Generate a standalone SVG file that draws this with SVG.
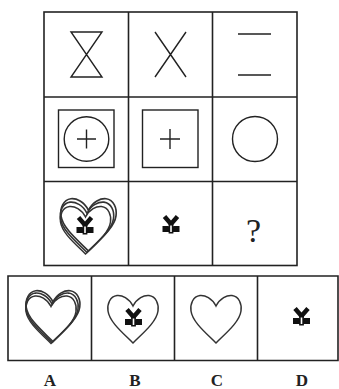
<svg xmlns="http://www.w3.org/2000/svg" xmlns:xlink="http://www.w3.org/1999/xlink" width="339" height="389" viewBox="0 0 339 389">
<style>
.grid{fill:none;stroke:#222;stroke-width:1.6}
.s{fill:none;stroke:#222;stroke-width:1.4}
.h{fill:none;stroke:#333;stroke-width:1.5}
.lbl{font-family:"Liberation Serif",serif;font-weight:bold;font-size:17px;fill:#222;text-anchor:middle}
.q{font-family:"Liberation Serif",serif;font-size:34px;fill:#222;text-anchor:middle}
</style>
<defs>
<path id="heart" d="M0,-13 C-4,-21 -11,-24 -16,-23.5 C-23,-22.5 -26,-15 -25,-8 C-23.5,3 -10,14 0,24 C10,14 23.5,3 25,-8 C26,-15 23,-22.5 16,-23.5 C11,-24 4,-21 0,-13 Z"/>
<g id="yen">
<path d="M-8.5,1 H-2.5 L-1,3 H1 L2.5,1 H8.5 V7 H-8.5 Z" fill="#111"/>
<path d="M-6.5,-8.5 L0,-1 L6.5,-8.5" fill="none" stroke="#111" stroke-width="4.5" stroke-linejoin="round"/>
<rect x="-2.4" y="-1.5" width="4.8" height="10" fill="#111"/>
<rect x="-0.8" y="0.5" width="1.6" height="6.5" fill="#fff"/>
</g>
</defs>
<g id="grid">
<rect class="grid" x="44" y="12" width="253" height="253.5"/>
<path class="grid" d="M128.5,12 V265.5 M212.5,12 V265.5 M44,97 H297 M44,181.5 H297"/>
</g>
<g id="r1c1"><path class="s" d="M71,32 H102 L71,77 H102 Z"/></g>
<g id="r1c2"><path class="s" d="M155,32 L186,77 M186,32 L155,77"/></g>
<g id="r1c3"><path class="s" d="M238,34 H271 M238,75 H271"/></g>
<g id="r2c1">
<rect class="s" x="58.5" y="110" width="55.5" height="57.5"/>
<circle class="s" cx="86.5" cy="139" r="22.3"/>
<path class="s" d="M77,139 H96 M86.5,129.5 V148.5"/>
</g>
<g id="r2c2">
<rect class="s" x="142.5" y="110" width="55.5" height="57.5"/>
<path class="s" d="M160,139 H180 M170,129 V149"/>
</g>
<g id="r2c3"><circle class="s" cx="255" cy="139" r="22.5"/></g>
<g id="r3c1">
<use href="#heart" class="h" transform="translate(85.5,230)"/>
<use href="#heart" class="h" transform="translate(87,228.5) translate(0,24) scale(1.06) translate(0,-24)"/>
<use href="#heart" class="h" transform="translate(88.5,227) translate(0,24) scale(1.1) translate(0,-24)"/>
<use href="#yen" transform="translate(85,226)"/>
</g>
<g id="r3c2"><use href="#yen" transform="translate(171,225)"/></g>
<g id="r3c3"><text class="q" x="253.5" y="242">?</text></g>
<g id="options">
<path class="grid" d="M8,276 H338 V360.5 H8 Z M91.5,276 V360.5 M174.5,276 V360.5 M257.5,276 V360.5"/>
</g>
<g id="optA">
<use href="#heart" class="h" transform="translate(51,319.5)"/>
<use href="#heart" class="h" transform="translate(52,318.5) translate(0,24) scale(1.04) translate(0,-24)"/>
<use href="#heart" class="h" transform="translate(53,317.5) translate(0,24) scale(1.07) translate(0,-24)"/>
</g>
<g id="optB">
<use href="#heart" class="h" transform="translate(133,319)"/>
<use href="#yen" transform="translate(133.5,318)"/>
</g>
<g id="optC"><use href="#heart" class="h" transform="translate(216,319)"/></g>
<g id="optD"><use href="#yen" transform="translate(301.5,317)"/></g>
<g id="labels">
<text class="lbl" x="50" y="386">A</text>
<text class="lbl" x="135" y="386">B</text>
<text class="lbl" x="217" y="386">C</text>
<text class="lbl" x="302" y="386">D</text>
</g>
</svg>
